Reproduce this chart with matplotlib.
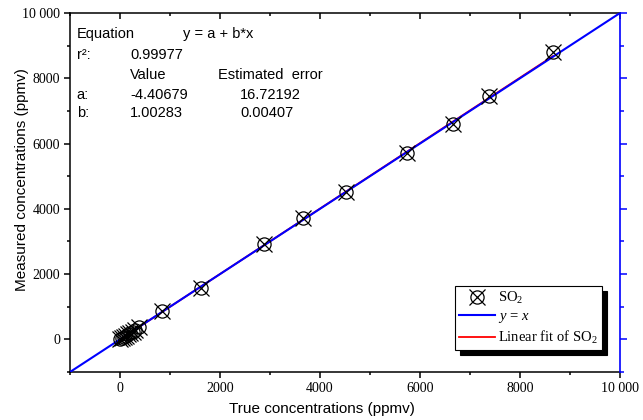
"""Measured vs true SO2 concentrations with linear fit"""

import matplotlib

matplotlib.use("Agg")
import matplotlib.pyplot as plt
import numpy as np
from matplotlib.legend_handler import HandlerTuple
from matplotlib.ticker import FuncFormatter, MultipleLocator

# Data
true_conc = [0, 40, 80, 120, 160, 200, 250, 300, 380,
             840, 1620, 2880, 3660, 4520, 5740, 6660, 7380, 8660]
measured_conc = [0, 30, 70, 110, 150, 200, 240, 290, 380,
                 870, 1580, 2920, 3720, 4520, 5710, 6600, 7460, 8800]
fit_a = -4.40679
fit_b = 1.00283
axis_range = [-1000, 10000]

serif = "Liberation Serif"
sans = "Liberation Sans"

plt.rcParams["mathtext.fontset"] = "custom"
plt.rcParams["mathtext.rm"] = serif
plt.rcParams["mathtext.it"] = serif + ":italic"


def _fmt(value, _pos):
    if value < 0:
        return ""
    if value >= 10000:
        return f"{int(value):,}".replace(",", " ")
    return f"{int(value)}"


figure = plt.figure(figsize=(6.43, 4.20), dpi=100)
axes = figure.add_axes([70 / 643, 48 / 420, 550 / 643, 359 / 420])

# Fit line, y = x reference, data points
fit_x = np.array([min(true_conc), max(true_conc)])
fit_line, = axes.plot(fit_x, fit_a + fit_b * fit_x, color="red", lw=1.3, zorder=2)
ref_line, = axes.plot(axis_range, axis_range, color="blue", lw=1.5, zorder=3)
circles, = axes.plot(true_conc, measured_conc, ls="none", marker="o", ms=9.5,
                     mfc="none", mec="black", mew=0.9, zorder=4)
crosses, = axes.plot(true_conc, measured_conc, ls="none", marker="x", ms=11,
                     mec="black", mew=0.9, zorder=4)

axes.set_xlim(axis_range)
axes.set_ylim(axis_range)

# Ticks on the left and bottom
for axis in (axes.xaxis, axes.yaxis):
    axis.set_major_locator(MultipleLocator(2000))
    axis.set_minor_locator(MultipleLocator(1000))
    axis.set_major_formatter(FuncFormatter(_fmt))
axes.tick_params(which="major", direction="out", length=4.5, width=1.1,
                 labelsize=10, pad=2.5)
axes.tick_params(which="minor", direction="out", length=2, width=1.1)
for label in axes.get_xticklabels() + axes.get_yticklabels():
    label.set_fontfamily(serif)
for side in ("left", "bottom", "top"):
    axes.spines[side].set_linewidth(1.1)
axes.spines["right"].set_visible(False)

# Top ticks pointing inward
top = axes.twiny()
top.set_xlim(axis_range)
top.xaxis.set_major_locator(MultipleLocator(2000))
top.xaxis.set_minor_locator(MultipleLocator(1000))
top.tick_params(which="major", direction="in", length=4, width=1.1, labeltop=False)
top.tick_params(which="minor", direction="in", length=2.5, width=1.1)
for spine in top.spines.values():
    spine.set_visible(False)

# Blue right axis
twin = axes.twinx()
twin.set_ylim(axis_range)
twin.yaxis.set_major_locator(MultipleLocator(2000))
twin.yaxis.set_minor_locator(MultipleLocator(1000))
twin.tick_params(which="major", direction="out", length=5, width=1.1,
                 color="blue", labelright=False)
twin.tick_params(which="minor", direction="out", length=3, width=1.1, color="blue")
for side in ("left", "bottom", "top"):
    twin.spines[side].set_visible(False)
twin.spines["right"].set_color("blue")
twin.spines["right"].set_linewidth(1.2)

axes.set_xlabel("True concentrations (ppmv)", fontfamily=sans, fontsize=11, va="top")
axes.xaxis.set_label_coords(0.458, -0.083)
axes.set_ylabel("Measured concentrations (ppmv)", fontfamily=sans, fontsize=11)
axes.yaxis.set_label_coords(-0.075, 0.535)

# Fit statistics box
stats_rows = [
    ("Equation", "", "y = a + b*x"),
    ("r²:", "0.99977", ""),
    ("", "Value", "Estimated  error"),
    ("a:", "-4.40679", "16.72192"),
    ("b:", "1.00283", "0.00407"),
]
row_y = [0.941, 0.883, 0.827, 0.772, 0.721]
for (c0, c1, c2), yy in zip(stats_rows, row_y):
    x2 = 0.206 if c0 == "Equation" else (0.269 if c0 == "" else 0.309)
    for xx, txt in ((0.012, c0), (0.109, c1), (x2, c2)):
        axes.text(xx, yy, txt, transform=axes.transAxes, fontfamily=sans,
                  fontsize=10.5, va="center")

legend = axes.legend(
    [(circles, crosses), ref_line, fit_line],
    ["SO$_2$", "$y$ = $x$", "Linear fit of SO$_2$"],
    handler_map={tuple: HandlerTuple(ndivide=1, pad=0)},
    loc="lower right", bbox_to_anchor=(0.968, 0.06),
    prop={"family": serif, "size": 10.5}, fancybox=False, framealpha=1,
    edgecolor="black", borderpad=0.3, handlelength=2.5, handletextpad=0.2,
    borderaxespad=0, labelspacing=0.25,
    shadow={"color": "black", "alpha": 1, "ox": 3.6, "oy": -3.6},
)
legend.get_frame().set_linewidth(0.8)

figure.savefig("out.png", dpi=100)
